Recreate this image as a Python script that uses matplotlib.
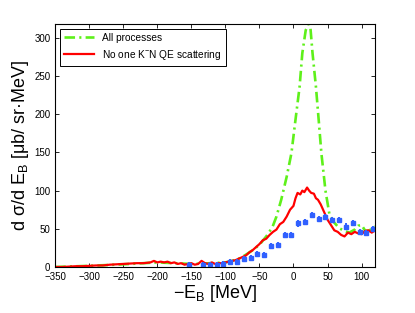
import numpy as np
import matplotlib.pyplot as plt

plt.rcParams['font.family'] = ['Liberation Sans', 'DejaVu Sans']
plt.rcParams['mathtext.fontset'] = 'custom'
plt.rcParams['mathtext.rm'] = 'Liberation Sans'
plt.rcParams['mathtext.it'] = 'Liberation Sans'

# all processes (green dash-dot)
e_all = [-350, -300, -250, -200, -150, -120, -100, -90, -80, -70, -60, -50, -40, -31,
         -25, -18, -10, -3, 3, 9, 13, 18, 22, 25, 28, 33, 37, 41, 47, 53, 60, 67,
         75, 82, 90, 95, 100, 105, 110, 115, 120]
v_all = [0, 1.5, 3.5, 6, 4, 5, 6, 8, 11, 16, 22, 29, 40, 52,
         66, 88, 118, 149, 193, 236, 280, 310, 318, 312, 280, 236, 193, 149, 100, 68, 58, 51,
         47, 45, 49, 54, 55, 48, 47, 50, 53]

# no one K-N QE scattering (red)
e_no = [-350, -340, -330, -320, -310, -300, -290, -280, -270, -260, -250, -240, -230, -220,
        -210, -205, -200, -195, -190, -185, -180, -175, -170, -165, -160, -155, -150, -145,
        -140, -135, -130, -125, -120, -115, -110, -105, -100, -95, -90, -85, -80, -75, -70,
        -65, -60, -55, -50, -45, -40, -35, -30, -25, -20, -15, -10, -5, 0, 3, 6, 10, 13,
        16, 20, 23, 26, 30, 33, 36, 40, 45, 50, 55, 60, 65, 70, 75, 80, 85, 90, 95, 100,
        105, 110, 115, 120]
v_no = [0, 0, 0.5, 1, 1, 1.5, 2, 2, 3, 3.5, 4, 4.5, 5, 5,
        6, 8, 6, 7, 6, 7, 5, 6, 4, 5, 3, 4, 5, 3,
        4, 8, 5, 4, 6, 4, 5, 5, 6, 7, 8, 9, 11, 13, 15,
        19, 22, 26, 30, 35, 37, 42, 46, 49, 56, 59, 66, 75, 80, 90, 97, 95, 100,
        98, 104, 100, 97, 96, 90, 88, 82, 72, 62, 55, 48, 46, 42, 40, 45, 43, 46, 44, 43,
        47, 48, 45, 48]

# data points (blue)
e_dat = [-153, -133, -123, -113, -103, -93, -83, -73, -63, -53, -43, -33, -23, -13, -3,
         7, 17, 27, 37, 47, 57, 67, 77, 87, 97, 107, 117]
v_dat = [2, 3, 3, 3, 4, 6, 7, 10, 12, 17, 16, 28, 29, 42, 42,
         57, 59, 68, 63, 65, 62, 62, 53, 58, 46, 44, 50]

fig = plt.figure(figsize=(4.15, 3.13), dpi=100)
ax = fig.add_axes([0.133, 0.147, 0.771, 0.776])

ax.plot(e_all, v_all, color='#5ef01a', linestyle=(0, (4, 1.6, 0.8, 1.6)), lw=1.9,
        label='All processes')
ax.plot(e_no, v_no, color='#ff0000', lw=1.6, label='No one K$^{-}$N QE scattering')
ax.errorbar(e_dat, v_dat, yerr=4, fmt='s', color='#3060ff', ms=2.4, elinewidth=1.4,
            capsize=0)

ax.set_xlim(-350, 120)
ax.set_ylim(0, 318)
ax.set_xticks(np.arange(-350, 101, 50))
ax.set_yticks(np.arange(0, 301, 50))
ax.tick_params(direction='in', top=True, right=True, labelsize=7, length=3, width=0.6)
for s in ax.spines.values():
    s.set_linewidth(0.8)

ax.set_xlabel('$-$E$_{\\rm B}$ [MeV]', fontsize=13, labelpad=1)
ax.set_ylabel('d \u03c3/d E$_{\\rm B}$ [\u03bcb/ sr\u00b7MeV]', fontsize=13, labelpad=2)

leg = ax.legend(loc='upper left', fontsize=7.3, fancybox=False, edgecolor='black',
                framealpha=1, handlelength=3, borderaxespad=0.45)
leg.get_frame().set_linewidth(0.7)

fig.savefig('out.png', dpi=100)
